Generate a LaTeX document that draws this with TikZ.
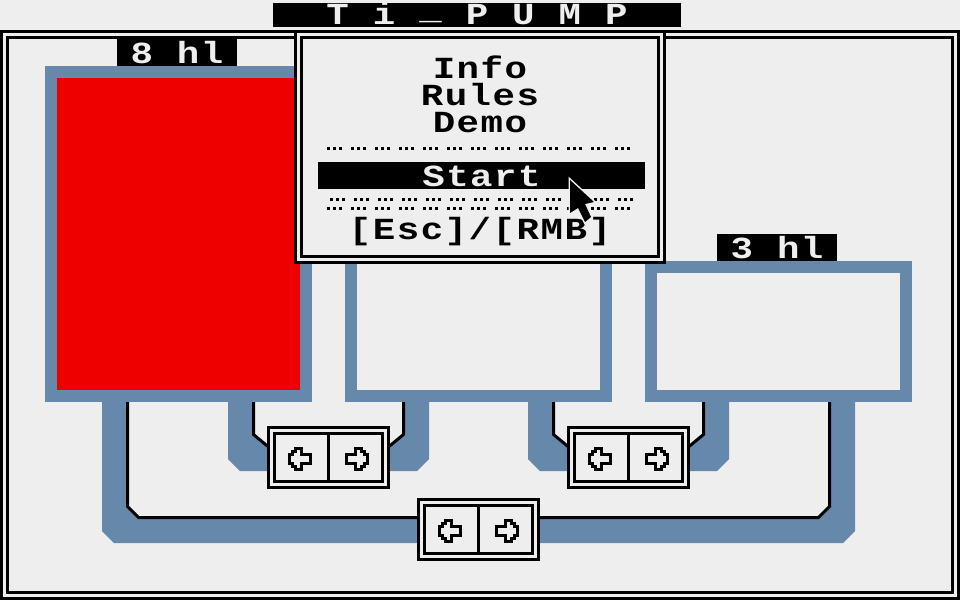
\documentclass[tikz,border=0pt]{standalone}
\usepackage{fontspec}
\newfontfamily\pixfont[FakeStretch=1.22,LetterSpace=5]{Liberation Mono}
\definecolor{screenbg}{HTML}{EEEEEE}
\definecolor{pipeblue}{HTML}{6688AA}
\definecolor{tankred}{HTML}{EE0000}
\begin{document}
\begin{tikzpicture}[x=0.75pt,y=-0.75pt,line join=miter,
pixtext/.style={font=\pixfont\bfseries\fontsize{23pt}{26pt}\selectfont,anchor=base,inner sep=0pt,outer sep=0pt},
barlabel/.style={pixtext,fill=black,text=screenbg,text depth=2.25pt,text height=18pt},
dblframe/.style={draw=black,line width=2.25pt,double=screenbg,double distance=2.25pt},
valvebox/.style={dblframe,fill=screenbg,inner sep=0pt,outer sep=0pt,minimum width=85.5pt,minimum height=40.5pt},
blackline/.style={draw=black,line width=2.25pt},
tankline/.style={draw=pipeblue,line width=9pt},
dotline/.style={draw=black,line width=2.25pt,dash pattern=on 2.25pt off 2.25pt on 2.25pt off 2.25pt on 2.25pt off 6.75pt},
arrowline/.style={draw=black,fill=screenbg,line width=2.25pt}]
\def\arrowshape{(-39,-3)--(-36,-3)--(-36,-6)--(-33,-6)--(-33,-9)--(-27,-9)--(-27,-3)--(-18,-3)--(-18,6)--(-27,6)--(-27,12)--(-33,12)--(-33,9)--(-36,9)--(-36,6)--(-39,6)--cycle}
\useasboundingbox (0,0) rectangle (960,600);
\fill[screenbg] (0,0) rectangle (960,600);
\draw[dblframe] (4.5,34.5) rectangle (955.5,595.5);
\node (title) [barlabel,text height=15.75pt,minimum width=306pt] at (477,24) {T i \raisebox{3.2pt}{\_} P U M P};
\fill[pipeblue] (102,402)--(102,531)--(114,543)--(843,543)--(855,531)--(855,402)--(831,402)--(831,507)--(819,519)--(138,519)--(126,507)--(126,402)--cycle;
\draw[blackline] (127.5,402)--(127.5,506.5)--(138.5,517.5)--(818.5,517.5)--(829.5,506.5)--(829.5,402);
\foreach \dx in {0,300}{
\begin{scope}[shift={(\dx,0)}]
\fill[pipeblue] (228,402)--(228,459)--(240,471)--(417,471)--(429,459)--(429,402)--(405,402)--(405,435)--(390,447)--(267,447)--(252,435)--(252,402)--cycle;
\draw[blackline] (253.5,402)--(253.5,434.5)--(268,446.5);
\draw[blackline] (403.5,402)--(403.5,434.5)--(389,446.5);
\end{scope}
}
\draw[tankline,fill=tankred] (51,72) rectangle (306,396);
\draw[tankline,fill=screenbg] (351,72) rectangle (606,396);
\draw[tankline,fill=screenbg] (651,267) rectangle (906,396);
\node (labelA) [barlabel,minimum width=90pt] at (177,63) {8 hl};
\node (labelC) [barlabel,minimum width=90pt] at (777,258) {3 hl};
\foreach \vname/\vx/\vy in {valveA/328.5/457.5,valveB/628.5/457.5,valveC/478.5/529.5}{
\node (\vname) [valvebox] at (\vx,\vy) {};
\draw[blackline,shorten >=2.25pt,shorten <=2.25pt] (\vname.north)--(\vname.south);
\draw[arrowline,shift={(\vx,\vy)}] \arrowshape;
\draw[arrowline,shift={(\vx,\vy)},xscale=-1] \arrowshape;
}
\draw[dblframe,fill=screenbg] (298.5,34.5) rectangle (661.5,259.5);
\node (info) [pixtext] at (480,78) {Info};
\node (rules) [pixtext] at (480,105) {Rules};
\node (demo) [pixtext] at (480,132) {Demo};
\draw[dotline] (327,148.5)--(633,148.5);
\node (start) [barlabel,minimum width=245.25pt] at (481.5,186) {Start};
\draw[dotline] (330,199.5)--(636,199.5);
\draw[dotline] (327,208.5)--(633,208.5);
\node (esc) [pixtext] at (480,239) {[Esc]/[RMB]};
\draw[draw=none,fill=black,preaction={draw=screenbg,line width=2.25pt}] (570,180)--(594,202)--(585,204)--(591,217)--(585,222)--(578,208)--(570,213)--cycle;
\end{tikzpicture}
\end{document}
